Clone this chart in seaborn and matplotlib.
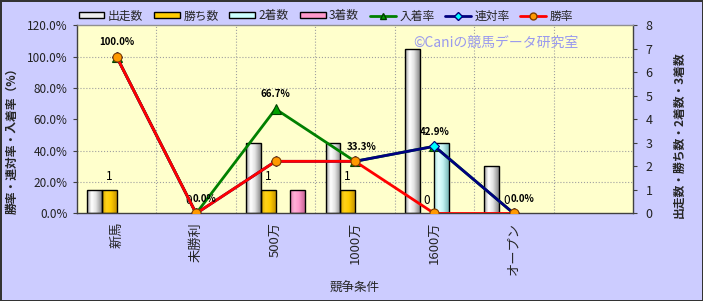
import numpy as np
import pandas as pd
import matplotlib
matplotlib.use("Agg")
import matplotlib.pyplot as plt
import seaborn as sns
from matplotlib.colors import LinearSegmentedColormap
from matplotlib.patches import Patch
from matplotlib.lines import Line2D
from matplotlib.ticker import FuncFormatter, FixedLocator, MultipleLocator

# ---------------- data ----------------
categories = ["新馬", "未勝利", "500万", "1000万", "1600万", "オープン"]
starts = [1, 0, 3, 3, 7, 2]
wins = [1, 0, 1, 1, 0, 0]
seconds = [0, 0, 0, 0, 3, 0]
thirds = [0, 0, 1, 0, 0, 0]
place_rate = [1.0, 0.0, 0.667, 0.333, 0.429, 0.0]
rentai_rate = [1.0, 0.0, 0.333, 0.333, 0.429, 0.0]
win_rate = [1.0, 0.0, 0.333, 0.333, 0.0, 0.0]
count_names = ["出走数", "勝ち数", "2着数", "3着数"]
rate_names = ["入着率", "連対率", "勝率"]
n_slots = 7  # one empty category slot at the right

# ---------------- style ----------------
sns.set_style("white")
plt.rcParams["font.family"] = ["Noto Sans CJK JP", "DejaVu Sans"]

bar_colors = {"出走数": "#eeeeee", "勝ち数": "#ffcc00", "2着数": "#ccffff", "3着数": "#ff99cc"}
bar_grads = {
    "出走数": [(0, "#9a9a9a"), (0.3, "#ffffff"), (0.6, "#e4e4e4"), (1, "#8a8a8a")],
    "勝ち数": [(0, "#d9a800"), (0.3, "#ffd21a"), (0.6, "#ffcc00"), (1, "#c89600")],
    "2着数": [(0, "#a8e0e0"), (0.3, "#e4ffff"), (0.6, "#c4f4f4"), (1, "#78b8b8")],
    "3着数": [(0, "#e080b0"), (0.3, "#ffb0d8"), (0.6, "#ff99cc"), (1, "#c86696")],
}
line_styles = {
    "入着率": dict(color="#008000", marker="^", mfc="#00a000", mec="#004000"),
    "連対率": dict(color="#000080", marker="D", mfc="#00ffff", mec="#000080"),
    "勝率": dict(color="#ff0000", marker="o", mfc="#ff9900", mec="#804000"),
}
# small horizontal nudges (points) for rate labels, as in the reference
label_dx = [0, 6, 0, 5, 0, 6]

fig = plt.figure(figsize=(7.03, 3.01), dpi=100, facecolor="#ccccff",
                 edgecolor="#333333", linewidth=2)
ax = fig.add_axes([0.1095, 0.2907, 0.7909, 0.6246])
ax.set_facecolor("#ffffcc")

# ---------------- bars (count axis) ----------------
counts = pd.DataFrame({"条件": categories, "出走数": starts, "勝ち数": wins,
                       "2着数": seconds, "3着数": thirds})
counts_long = counts.melt(id_vars="条件", var_name="系列", value_name="数")
sns.barplot(data=counts_long, x="条件", y="数", hue="系列", order=categories,
            hue_order=count_names, palette=bar_colors, width=0.74,
            edgecolor="black", linewidth=1.0, saturation=1, errorbar=None,
            legend=False, ax=ax)

# labels on win-count bars
ax.bar_label(ax.containers[1], fmt="%d", padding=5, fontsize=8.5, color="black")

grad = np.linspace(0, 1, 64)[None, :]
for cont, name in zip(ax.containers, count_names):
    cmap = LinearSegmentedColormap.from_list(name, bar_grads[name])
    for bar in cont:
        h = bar.get_height()
        if h <= 0:
            bar.set_visible(False)
            continue
        x0, w = bar.get_x(), bar.get_width()
        im = ax.imshow(grad, cmap=cmap, extent=(x0, x0 + w, 0, h), aspect="auto",
                       interpolation="bilinear", zorder=bar.get_zorder() - 0.1)
        im.set_clip_path(bar)
        bar.set_facecolor("none")

# ---------------- lines (rate axis) ----------------
ax2 = ax.twinx()
rates = pd.DataFrame({"条件": categories, "入着率": place_rate,
                      "連対率": rentai_rate, "勝率": win_rate})
for name in rate_names:
    st = line_styles[name]
    sns.pointplot(data=rates, x="条件", y=name, order=categories, color=st["color"],
                  markers=st["marker"], linestyles="-", errorbar=None, ax=ax2)
    ln = ax2.lines[-1]
    ln.set_linewidth(2.0)
    ln.set_markerfacecolor(st["mfc"])
    ln.set_markeredgecolor(st["mec"])
    ln.set_markeredgewidth(0.8)
    ln.set_markersize(6.5 if st["marker"] != "D" else 5)
    ln.set_zorder(3 + rate_names.index(name))
    if name == "入着率":
        for (xv, yv), dx in zip(ln.get_xydata(), label_dx):
            ax2.annotate(f"{yv:.1%}", xy=(xv, yv), xytext=(dx, 7),
                         textcoords="offset points", ha="center", va="bottom",
                         fontsize=7, fontweight="bold", color="black", zorder=10)

# ---------------- axes ----------------
ax.yaxis.tick_right()
ax.yaxis.set_label_position("right")
ax2.yaxis.tick_left()
ax2.yaxis.set_label_position("left")

ax.set_xlim(-0.5, n_slots - 0.5)
ax.set_ylim(0, 8)
ax2.set_ylim(0, 1.2)

ax.yaxis.set_major_locator(MultipleLocator(1))
ax2.yaxis.set_major_locator(MultipleLocator(0.2))
ax2.yaxis.set_major_formatter(FuncFormatter(lambda v, p: f"{v * 100:.1f}%"))

ax.set_xticks(range(len(categories)))
ax.set_xticklabels(categories, rotation=90, fontsize=9.5)
ax.xaxis.set_minor_locator(FixedLocator(np.arange(0.5, n_slots - 0.5, 1)))
ax.yaxis.set_minor_locator(FixedLocator(np.linspace(0, 8, 7)))

ax.tick_params(axis="x", which="major", length=0, pad=6)
ax.tick_params(axis="x", which="minor", length=3, color="#404040", direction="out")
ax.tick_params(axis="y", which="major", length=3, color="#404040", labelsize=9,
               pad=6, labelcolor="#222222", right=True, left=False)
ax.tick_params(axis="y", which="minor", length=0)
ax2.tick_params(axis="y", which="major", length=3, color="#404040", labelsize=8.5,
                pad=4, labelcolor="#222222", left=True, right=False)

ax.grid(False)
ax2.grid(False)
ax.grid(which="minor", axis="both", color="#a0a0a0", linestyle=":", linewidth=0.8)
ax.set_axisbelow(True)

for sp in ax.spines.values():
    sp.set_color("#404040")
    sp.set_linewidth(1.0)
ax.spines["top"].set_color("#909090")
for sp in ax2.spines.values():
    sp.set_visible(False)

ax.set_xlabel("競争条件", fontsize=9)
ax.xaxis.set_label_coords(0.5, -0.365)
ax.set_ylabel("出走数・勝ち数・2着数・3着数", fontsize=8.5, fontweight="bold", rotation=90)
ax.yaxis.set_label_coords(1.072, 0.4175)
ax2.set_ylabel("勝率・連対率・入着率（%）", fontsize=8.5, fontweight="bold")
ax2.yaxis.set_label_coords(-0.105, 0.404)

# ---------------- watermark ----------------
fig.text(0.705, 0.857, "©Caniの競馬データ研究室", color="#9999ee", fontsize=10,
         ha="center", va="center")

# ---------------- legend ----------------
handles = [Patch(facecolor=bar_colors[n], edgecolor="black", linewidth=1.0) for n in count_names]
for n in rate_names:
    st = line_styles[n]
    handles.append(Line2D([], [], color=st["color"], linewidth=2, marker=st["marker"],
                          markerfacecolor=st["mfc"], markeredgecolor=st["mec"],
                          markersize=5 if st["marker"] != "D" else 4))
fig.legend(handles, count_names + rate_names, loc="center", ncol=7,
           bbox_to_anchor=(326 / 703, 1 - 16 / 301), frameon=False, fontsize=8.5,
           handlelength=2.2, handleheight=0.45, handletextpad=0.3, columnspacing=0.9)

fig.savefig("out.png", dpi=100, facecolor=fig.get_facecolor(), edgecolor=fig.get_edgecolor())
